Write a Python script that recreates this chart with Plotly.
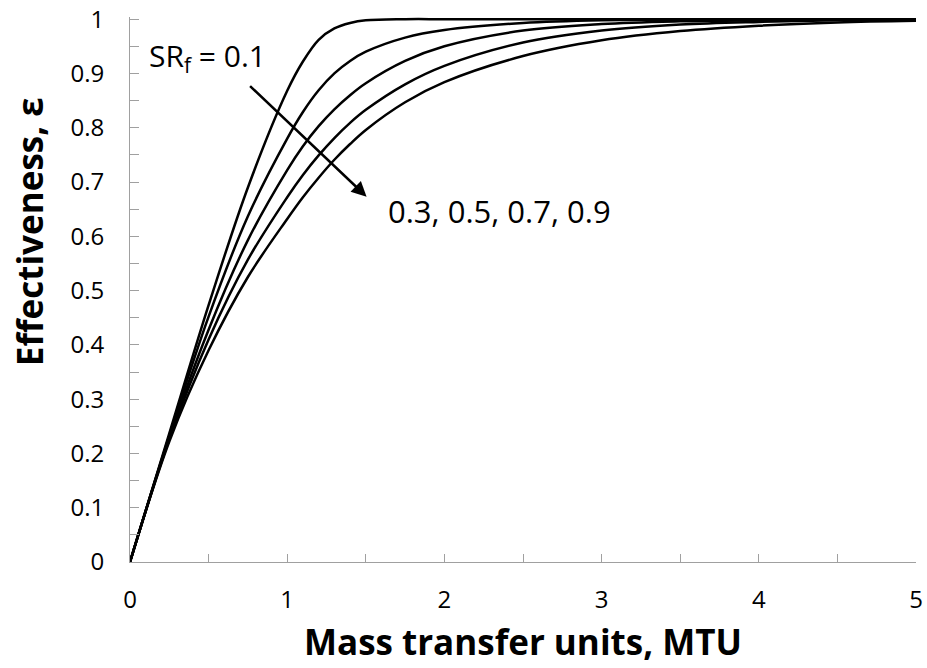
import plotly.graph_objects as go

# Mass transfer units (x) shared by all curves
mtu = [0, 0.25, 0.5, 0.75, 1.0, 1.1, 1.2, 1.3, 1.4, 1.5, 1.75, 2.0, 2.5, 3.0, 3.5, 4.0, 4.5, 5.0]

# Effectiveness for each SR_f
eff_sr01 = [0, 0.237, 0.473, 0.690, 0.868, 0.922, 0.962, 0.983, 0.993, 0.998, 1.0, 1.0, 1.0, 1.0, 1.0, 1.0, 1.0, 1.0]
eff_sr03 = [0, 0.233, 0.452, 0.637, 0.780, 0.829, 0.869, 0.900, 0.923, 0.940, 0.966, 0.980, 0.993, 0.998, 0.999, 1.0, 1.0, 1.0]
eff_sr05 = [0, 0.230, 0.428, 0.593, 0.722, 0.766, 0.803, 0.834, 0.860, 0.882, 0.923, 0.950, 0.979, 0.991, 0.996, 0.998, 0.999, 1.0]
eff_sr07 = [0, 0.226, 0.410, 0.557, 0.672, 0.713, 0.749, 0.781, 0.809, 0.833, 0.880, 0.914, 0.957, 0.979, 0.990, 0.995, 0.998, 0.999]
eff_sr09 = [0, 0.222, 0.390, 0.525, 0.632, 0.672, 0.708, 0.741, 0.770, 0.796, 0.847, 0.884, 0.932, 0.961, 0.978, 0.988, 0.994, 0.997]

series = [("SRf=0.1", eff_sr01), ("SRf=0.3", eff_sr03), ("SRf=0.5", eff_sr05),
          ("SRf=0.7", eff_sr07), ("SRf=0.9", eff_sr09)]

x_tick_vals = [0, 1, 2, 3, 4, 5]
y_tick_vals = [0, 0.1, 0.2, 0.3, 0.4, 0.5, 0.6, 0.7, 0.8, 0.9, 1.0]
y_tick_text = ["0", "0.1", "0.2", "0.3", "0.4", "0.5", "0.6", "0.7", "0.8", "0.9", "1"]

FONT = "Open Sans"
AXIS_GRAY = "#a0a0a0"

fig = go.Figure()
for name, ys in series:
    fig.add_trace(go.Scatter(x=mtu, y=ys, mode="lines", name=name,
                             line=dict(color="black", width=2.5, shape="spline", smoothing=1.0),
                             showlegend=False, hoverinfo="x+y"))

fig.update_layout(
    width=927, height=668,
    margin=dict(l=130, r=10.5, t=17, b=106),
    paper_bgcolor="white", plot_bgcolor="white",
    font=dict(family=FONT, color="black", size=24),
)

fig.update_xaxes(
    range=[0, 5], tickvals=x_tick_vals, ticktext=[str(v) for v in x_tick_vals],
    automargin=False,
    showgrid=False, zeroline=False, showline=True, linecolor=AXIS_GRAY, linewidth=1,
    ticks="inside", ticklen=8, tickcolor=AXIS_GRAY, tickwidth=1,
    minor=dict(dtick=0.5, ticks="inside", ticklen=8, tickcolor=AXIS_GRAY, tickwidth=1, showgrid=False),
    tickfont=dict(family=FONT, size=24, color="black"),
    ticklabelstandoff=16,
)
fig.update_yaxes(
    range=[0, 1.004], tickvals=y_tick_vals, ticktext=y_tick_text,
    automargin=False,
    showgrid=False, zeroline=False, showline=True, linecolor=AXIS_GRAY, linewidth=1,
    ticks="inside", ticklen=9, tickcolor=AXIS_GRAY, tickwidth=1,
    minor=dict(dtick=0.05, tick0=0, ticks="inside", ticklen=9, tickcolor=AXIS_GRAY, tickwidth=1, showgrid=False),
    tickfont=dict(family=FONT, size=24, color="black"),
    ticklabelstandoff=20,
)

annotations = [
    dict(text="<b>Mass transfer units, MTU</b>", xref="paper", yref="paper",
         x=0.4996, y=-0.145, xanchor="center", yanchor="middle", showarrow=False,
         font=dict(family=FONT, size=35, color="black")),
    dict(text="<b>Effectiveness, ε</b>", xref="paper", yref="paper",
         x=-0.127, y=0.6056, xanchor="center", yanchor="middle", showarrow=False,
         textangle=-90, font=dict(family=FONT, size=35, color="black")),
    dict(text="SR<sub>f</sub> = 0.1", xref="x", yref="y",
         x=0.11, y=0.93, xanchor="left", yanchor="middle", showarrow=False,
         font=dict(family=FONT, size=30, color="black")),
    dict(text="0.3, 0.5, 0.7, 0.9", xref="x", yref="y",
         x=1.63, y=0.647, xanchor="left", yanchor="middle", showarrow=False,
         font=dict(family=FONT, size=31, color="black")),
    dict(text="", xref="x", yref="y", x=1.505, y=0.673, ax=-118, ay=-112,
         axref="pixel", ayref="pixel", showarrow=True, arrowhead=2, arrowsize=1.2,
         arrowwidth=2.5, arrowcolor="black"),
]
fig.update_layout(annotations=annotations)

fig.write_html("out.html",
               config={"displayModeBar": False},
               post_script="document.body.style.margin='0';document.body.style.overflow='hidden';")
